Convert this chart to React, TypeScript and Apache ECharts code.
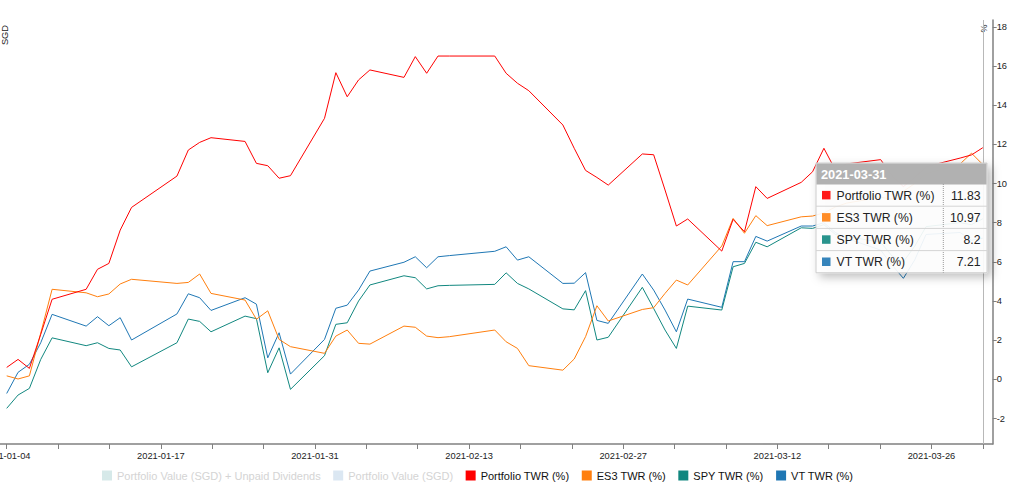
import React, { useEffect, useRef } from 'react';
import * as echarts from 'echarts';

// ---------- data ----------
const dates = [
  '2021-01-04', '2021-01-05', '2021-01-06', '2021-01-07', '2021-01-08',
  '2021-01-11', '2021-01-12', '2021-01-13', '2021-01-14', '2021-01-15',
  '2021-01-19', '2021-01-20', '2021-01-21', '2021-01-22',
  '2021-01-25', '2021-01-26', '2021-01-27', '2021-01-28', '2021-01-29',
  '2021-02-01', '2021-02-02', '2021-02-03', '2021-02-04', '2021-02-05',
  '2021-02-08', '2021-02-09', '2021-02-10', '2021-02-11', '2021-02-12',
  '2021-02-16', '2021-02-17', '2021-02-18', '2021-02-19',
  '2021-02-22', '2021-02-23', '2021-02-24', '2021-02-25', '2021-02-26',
  '2021-03-01', '2021-03-02', '2021-03-03', '2021-03-04', '2021-03-05',
  '2021-03-08', '2021-03-09', '2021-03-10', '2021-03-11', '2021-03-12',
  '2021-03-15', '2021-03-16', '2021-03-17', '2021-03-18', '2021-03-19',
  '2021-03-22', '2021-03-23', '2021-03-24', '2021-03-25', '2021-03-26',
  '2021-03-29', '2021-03-30', '2021-03-31',
];

const portfolioTWR = [
  0.61, 1.02, 0.56, 2.3, 4.09,
  4.6, 5.62, 5.92, 7.62, 8.78,
  10.38, 11.71, 12.1, 12.34,
  12.15, 11.03, 10.91, 10.27, 10.4,
  13.33, 15.66, 14.43, 15.29, 15.8,
  15.42, 16.48, 15.63, 16.51, 16.51,
  16.51, 15.63, 15.12, 14.74,
  12.99, 11.8, 10.67, 10.31, 9.92,
  11.51, 11.47, 9.67, 7.83, 8.19,
  6.55, 8.17, 7.54, 9.84, 9.24,
  10.06, 10.6, 11.8, 10.7, 11.0,
  11.22, 10.4, 9.84, 10.3, 10.86,
  11.3, 11.46, 11.83,
];

const es3TWR = [
  0.18, 0.02, 0.18, 2.36, 4.6,
  4.42, 4.22, 4.36, 4.87, 5.11,
  4.9, 4.95, 5.38, 4.39,
  4.05, 3.07, 3.5, 2.04, 1.67,
  1.33, 2.21, 2.52, 1.84, 1.8,
  2.72, 2.66, 2.21, 2.13, 2.18,
  2.52, 1.92, 1.58, 0.7,
  0.47, 1.04, 2.18, 3.76, 2.98,
  3.57, 3.66, 4.39, 5.07, 4.82,
  6.81, 8.22, 7.46, 8.36, 7.85,
  8.3, 8.34, 8.5, 8.8, 9.0,
  9.3, 9.2, 9.6, 10.0, 10.5,
  11.0, 11.55, 10.97,
];

const spyTWR = [
  -1.48, -0.8, -0.46, 1.02, 2.12,
  1.72, 1.87, 1.58, 1.5, 0.64,
  1.87, 3.08, 2.96, 2.43,
  3.23, 3.1, 0.34, 1.61, -0.51,
  1.21, 2.81, 2.89, 4.0, 4.82,
  5.29, 5.19, 4.62, 4.78, 4.8,
  4.85, 5.44, 4.9, 4.62,
  3.6, 3.55, 4.53, 2.01, 2.15,
  4.7, 3.62, 2.52, 1.58, 3.74,
  3.54, 5.75, 5.92, 7.0, 6.77,
  7.74, 7.71, 7.9, 7.4, 7.3,
  7.0, 6.3, 6.0, 6.8, 7.8,
  8.0, 7.9, 8.2,
];

const vtTWR = [
  -0.72, 0.36, 0.77, 1.87, 3.32,
  2.72, 3.2, 2.74, 3.15, 2.01,
  3.34, 4.37, 4.17, 3.52,
  4.17, 3.84, 1.1, 2.38, 0.27,
  2.04, 3.63, 3.79, 4.56, 5.53,
  5.98, 6.26, 5.7, 6.26, 6.32,
  6.54, 6.77, 6.09, 6.26,
  4.9, 4.91, 5.45, 3.01, 2.86,
  5.38, 4.56, 3.54, 2.43, 4.1,
  3.68, 6.01, 6.01, 7.3, 7.06,
  7.83, 7.83, 8.0, 7.5, 7.2,
  6.6, 5.84, 5.16, 6.1, 7.4,
  7.5, 7.1, 7.21,
];

const yTicks = [-2, 0, 2, 4, 6, 8, 10, 12, 14, 16, 18];
const xTickLabels = [
  '2021-01-04', '2021-01-17', '2021-01-31', '2021-02-13',
  '2021-02-27', '2021-03-12', '2021-03-26',
];
const hiddenNames = ['Portfolio Value (SGD) + Unpaid Dividends', 'Portfolio Value (SGD)'];
const twrNames = ['Portfolio TWR (%)', 'ES3 TWR (%)', 'SPY TWR (%)', 'VT TWR (%)'];
const twrValues = [portfolioTWR, es3TWR, spyTWR, vtTWR];
const twrColors = ['#ff0000', '#ff7f0e', '#11877f', '#1f77b4'];
const hiddenColors = ['#d6e9e9', '#dbe7f2'];
const focusDate = '2021-03-31';

const FONT = '"Liberation Sans", Arial, Helvetica, sans-serif';
const DAY = 86400000;

export default function App() {
  const ref = useRef<HTMLDivElement>(null);

  useEffect(() => {
    if (!ref.current) return;
    const chart = echarts.init(ref.current, undefined, { renderer: 'svg' });

    // x is measured in days since the first date
    const t0 = Date.parse(dates[0]);
    const dayOf = (d: string) => (Date.parse(d) - t0) / DAY;
    const dEnd = dayOf(dates[dates.length - 1]);
    const tickStep = dEnd / 19;
    const tickVals: number[] = [];
    for (let i = 0; i < 20; i++) tickVals.push(i * tickStep);
    const labelVals = tickVals.filter((_, i) => i % 3 === 0);

    const dFocus = dayOf(focusDate);
    const focusIdx = dates.indexOf(focusDate);

    const series: any[] = [];
    hiddenNames.forEach((n, i) => {
      series.push({
        name: n,
        type: 'line',
        yAxisIndex: 0,
        data: [],
        color: hiddenColors[i],
      });
    });
    twrNames.forEach((n, i) => {
      const s: any = {
        name: n,
        type: 'line',
        yAxisIndex: 1,
        color: twrColors[i],
        symbol: 'none',
        showSymbol: false,
        lineStyle: { width: 1, color: twrColors[i] },
        data: dates.map((d, j) => [dayOf(d), twrValues[i][j]]),
        z: 10 - i,
      };
      if (i === 0) {
        s.markLine = {
          silent: true,
          symbol: ['none', 'none'],
          label: { show: false },
          lineStyle: { color: '#b8b8b8', width: 1, type: 'solid' },
          data: [{ xAxis: dFocus }],
        };
      }
      series.push(s);
    });

    // static tooltip
    const Z = 200;
    const tipX = 816;
    const tipY = 163;
    const tipW = 171;
    const headH = 21;
    const rowH = 22.2;
    const tipH = headH + rowH * 4;
    const colX = 943.3;
    const tipChildren: any[] = [
      {
        type: 'rect',
        z: Z,
        shape: { x: tipX, y: tipY, width: tipW, height: tipH },
        style: {
          fill: 'rgba(255,255,255,0.9)',
          stroke: '#cccccc',
          lineWidth: 1,
          shadowBlur: 10,
          shadowOffsetX: 4,
          shadowOffsetY: 4,
          shadowColor: 'rgba(0,0,0,0.28)',
        },
      },
      {
        type: 'rect',
        z: Z + 1,
        shape: { x: tipX + 0.5, y: tipY + 0.5, width: tipW - 1, height: headH },
        style: { fill: 'rgba(170,170,170,0.92)' },
      },
      {
        type: 'text',
        z: Z + 2,
        x: tipX + 5,
        y: tipY + headH / 2 + 1,
        style: {
          text: focusDate,
          fill: '#ffffff',
          font: `bold 12.8px ${FONT}`,
          align: 'left',
          verticalAlign: 'middle',
        },
      },
      {
        type: 'line',
        z: Z + 1,
        shape: { x1: colX, y1: tipY + headH, x2: colX, y2: tipY + tipH },
        style: { stroke: '#999999', lineWidth: 1, lineDash: [1, 1] },
      },
    ];
    twrNames.forEach((n, i) => {
      const top = tipY + headH + i * rowH;
      const cy = top + rowH / 2;
      if (i > 0) {
        tipChildren.push({
          type: 'line',
          z: Z + 1,
          shape: { x1: tipX, y1: top, x2: tipX + tipW, y2: top },
          style: { stroke: '#d4d4d4', lineWidth: 1 },
        });
      }
      tipChildren.push({
        type: 'rect',
        z: Z + 2,
        shape: { x: 822, y: cy - 4.2, width: 8.5, height: 8.5 },
        style: { fill: twrColors[i], opacity: 0.9 },
      });
      tipChildren.push({
        type: 'text',
        z: Z + 2,
        x: 836.5,
        y: cy + 0.5,
        style: {
          text: n,
          fill: '#222222',
          font: `12.2px ${FONT}`,
          align: 'left',
          verticalAlign: 'middle',
        },
      });
      tipChildren.push({
        type: 'text',
        z: Z + 2,
        x: 980.5,
        y: cy + 0.5,
        style: {
          text: String(twrValues[i][focusIdx]),
          fill: '#222222',
          font: `12.2px ${FONT}`,
          align: 'right',
          verticalAlign: 'middle',
        },
      });
    });

    const option: any = {
      animation: false,
      backgroundColor: '#ffffff',
      textStyle: { fontFamily: FONT },
      grid: {
        left: 0,
        right: 30.3,
        top: 20,
        bottom: 46,
        containLabel: false,
        outerBoundsMode: 'none',
      },
      legend: {
        left: 102,
        top: 470,
        padding: 0,
        icon: 'rect',
        itemWidth: 10,
        itemHeight: 10,
        itemGap: 12.5,
        selectedMode: false,
        textStyle: { fontSize: 11, color: '#111111', fontFamily: FONT },
        data: [
          ...hiddenNames.map((n) => ({ name: n, textStyle: { color: '#d4d4d4' } })),
          ...twrNames.map((n) => ({ name: n })),
        ],
      },
      xAxis: {
        type: 'value',
        min: -0.59,
        max: 86.87,
        splitLine: { show: false },
        axisLine: { show: true, onZero: false, lineStyle: { color: '#808080', width: 1.5 } },
        axisTick: {
          show: true,
          customValues: tickVals,
          length: 5,
          lineStyle: { color: '#808080', width: 1 },
        },
        axisLabel: {
          customValues: labelVals,
          fontSize: 9.3,
          color: '#222222',
          fontFamily: FONT,
          margin: 7,
          formatter: (v: number) => {
            const k = Math.round(v / (tickStep * 3));
            return xTickLabels[k] ?? '';
          },
        },
      },
      yAxis: [
        {
          type: 'value',
          show: false,
          min: 0,
          max: 1,
        },
        {
          type: 'value',
          position: 'right',
          min: -3.3,
          max: 18.35,
          splitLine: { show: false },
          axisLine: { show: true, onZero: false, lineStyle: { color: '#808080', width: 1.5 } },
          axisTick: {
            show: true,
            customValues: yTicks,
            length: 4,
            lineStyle: { color: '#808080', width: 1 },
          },
          axisLabel: {
            customValues: yTicks,
            fontSize: 9.3,
            color: '#222222',
            fontFamily: FONT,
            margin: 4,
          },
        },
      ],
      graphic: [
        {
          type: 'text',
          x: 5,
          y: 35,
          rotation: Math.PI / 2,
          style: {
            text: 'SGD',
            fill: '#222222',
            font: `9.3px ${FONT}`,
            align: 'center',
            verticalAlign: 'middle',
          },
        },
        {
          type: 'text',
          x: 983.5,
          y: 28.5,
          rotation: Math.PI / 2,
          style: {
            text: '%',
            fill: '#222222',
            font: `9px ${FONT}`,
            align: 'center',
            verticalAlign: 'middle',
          },
        },
        {
          type: 'group',
          z: Z,
          children: tipChildren,
        },
      ],
      series,
    };

    chart.setOption(option);
    return () => {
      chart.dispose();
    };
  }, []);

  return (
    <div
      ref={ref}
      style={{ position: 'absolute', left: 0, top: 0, width: 1023, height: 490 }}
    />
  );
}
